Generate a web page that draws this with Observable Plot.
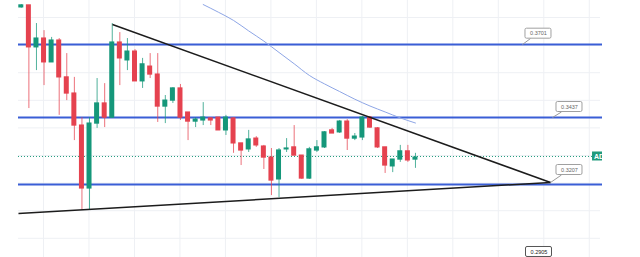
<!DOCTYPE html>
<html><head><meta charset="utf-8">
<script src="https://cdn.jsdelivr.net/npm/d3@7"></script>
<script src="https://cdn.jsdelivr.net/npm/@observablehq/plot@0.6"></script>
<style>html,body{margin:0;padding:0;background:#fff;overflow:hidden}</style>
</head><body><div id="chart"></div>
<script>
// Candles (index = bar number)
const open  = [0.3832,0.3839,0.3691,0.3722,0.3638,0.3715,0.3585,0.3528,0.3415,0.3193,0.3422,0.3493,0.3443,0.3708,0.3645,0.3676,0.3571,0.3623,0.3595,0.3482,0.3503,0.3546,0.3461,0.3429,0.3433,0.3440,0.3443,0.3398,0.3440,0.3352,0.3331,0.3369,0.3341,0.3302,0.3225,0.3331,0.3338,0.3309,0.3228,0.3327,0.3338,0.3398,0.3391,0.3429,0.3369,0.3373,0.3443,0.3405,0.3338,0.3271,0.3295,0.3324,0.3295];
const high  = [0.3842,0.3839,0.3775,0.3750,0.3726,0.3722,0.3669,0.3585,0.3443,0.3443,0.3581,0.3563,0.3775,0.3743,0.3722,0.3683,0.3652,0.3669,0.3669,0.3521,0.3549,0.3560,0.3461,0.3443,0.3496,0.3443,0.3443,0.3451,0.3443,0.3352,0.3398,0.3376,0.3345,0.3334,0.3334,0.3369,0.3415,0.3309,0.3338,0.3362,0.3394,0.3405,0.3433,0.3436,0.3387,0.3447,0.3447,0.3408,0.3338,0.3295,0.3345,0.3345,0.3317];
const low   = [0.3829,0.3475,0.3609,0.3556,0.3638,0.3451,0.3503,0.3362,0.3116,0.3116,0.3405,0.3408,0.3440,0.3556,0.3609,0.3571,0.3546,0.3581,0.3426,0.3422,0.3493,0.3433,0.3362,0.3408,0.3415,0.3415,0.3398,0.3380,0.3317,0.3274,0.3320,0.3338,0.3260,0.3168,0.3161,0.3320,0.3309,0.3225,0.3225,0.3320,0.3334,0.3387,0.3387,0.3327,0.3362,0.3362,0.3405,0.3334,0.3246,0.3249,0.3285,0.3285,0.3264];
const close = [0.3839,0.3691,0.3722,0.3638,0.3715,0.3585,0.3528,0.3415,0.3193,0.3422,0.3493,0.3443,0.3708,0.3652,0.3676,0.3571,0.3631,0.3595,0.3482,0.3503,0.3546,0.3443,0.3429,0.3436,0.3443,0.3433,0.3398,0.3443,0.3352,0.3327,0.3366,0.3345,0.3302,0.3221,0.3327,0.3334,0.3309,0.3228,0.3331,0.3338,0.3391,0.3387,0.3429,0.3369,0.3376,0.3443,0.3408,0.3338,0.3274,0.3295,0.3324,0.3292,0.3302];

// Moving average samples
const maIdx = [24,26,28,30,32,34,36,38,40,42,44,46,48,50,52];
const maVal = [0.3842,0.3815,0.3786,0.3749,0.3713,0.3673,0.3633,0.3592,0.3562,0.3535,0.3508,0.3484,0.3463,0.3442,0.3424];

// Horizontal levels
const levels = [0.3701, 0.34434, 0.3207];
const lastPrice = 0.33059;

// Trendlines [x1,y1,x2,y2]
const trendX1 = [12.03, -0.37];
const trendY1 = [0.37716, 0.31047];
const trendX2 = [69.82, 69.82];
const trendY2 = [0.32141, 0.32141];

// Price callouts
const labelText = ["0.3701","0.3437","0.3207","0.2905"];
const labelIdx  = [68.23, 72.32, 72.32, 68.30];
const labelVal  = [0.37392, 0.34805, 0.32582, 0.29689];
const tailX1 = [67.18, 71.26, 71.26];
const tailY1 = [0.37222, 0.34629, 0.32406];
const tailX2 = [66.12, 70.08, 69.82];
const tailY2 = [0.3701, 0.34434, 0.32141];

// Grid
const gridX = [2.93,8.93,14.93,20.93,26.93,32.93,38.93,44.93,50.93,56.93,62.93,68.93,74.93];
const gridY = [0.37963,0.36989,0.36015,0.35041,0.34068,0.33094,0.32120,0.31146,0.30172];

const candles = open.map((o,i)=>({i, o, h: high[i], l: low[i], c: close[i]}));
const RED = "#e5424f", GREEN = "#15977a";
const col = d => d.c >= d.o ? GREEN : RED;
const PXX = 1/7.58, PXY = 0.00035286;

const labels = labelText.map((t,k)=>({t, x: labelIdx[k], y: labelVal[k], k}));
const tails = tailX1.map((x,k)=>({x1:x, y1:tailY1[k], x2:tailX2[k], y2:tailY2[k]}));
const trends = trendX1.map((x,k)=>({x1:x, y1:trendY1[k], x2:trendX2[k], y2:trendY2[k]}));
const ma = maIdx.map((x,k)=>({x, y: maVal[k]}));

const xMin = -0.37, xMaxGrid = 76.42, xDot = 75.36;

const chart = Plot.plot({
  width: 640, height: 257,
  marginLeft: 18, marginRight: 38, marginTop: 0, marginBottom: 0,
  x: {domain: [-20.8/7.58, -20.8/7.58 + 640/7.58], range: [0, 640], axis: null},
  y: {domain: [0.38563 - 257*PXY, 0.38563], range: [257, 0], axis: null},
  style: {background: "#fff"},
  marks: [
    Plot.ruleX(gridX, {stroke: "#eef0f4", strokeWidth: 1}),
    Plot.ruleY(gridY, {x1: xMin, x2: xMaxGrid, stroke: "#eef0f4", strokeWidth: 1}),
    Plot.ruleY(levels, {stroke: "#3a5ed6", strokeWidth: 2, clip: true}),
    Plot.ruleY([lastPrice], {x1: xMin, x2: xDot, stroke: "#1f9a7c", strokeWidth: 1, strokeDasharray: "1,2"}),
    Plot.line(ma, {x: "x", y: "y", stroke: "#8ea6e6", strokeWidth: 1, curve: "monotone-x"}),
    Plot.ruleX(candles, {x: "i", y1: "l", y2: "h", stroke: col, strokeWidth: 1, strokeOpacity: 0.75}),
    Plot.rect(candles, {x1: d=>d.i-0.33, x2: d=>d.i+0.33, y1: "o", y2: "c", fill: col, insetTop: -0.6, insetBottom: -0.6}),
    Plot.link(trends, {x1:"x1", y1:"y1", x2:"x2", y2:"y2", stroke: "#1c1c1c", strokeWidth: 1.5}),
    Plot.link(tails, {x1:"x1", y1:"y1", x2:"x2", y2:"y2", stroke: "#9a9a9a", strokeWidth: 1}),
    Plot.rect(labels, {x1: d=>d.x-13*PXX, x2: d=>d.x+13*PXX, y1: d=>d.y-5*PXY, y2: d=>d.y+5*PXY,
      fill: "#fff", stroke: d=>d.k===3 ? "#555" : "#a0a0a0", strokeWidth: 1, rx: 1.5}),
    Plot.text(labels, {x: "x", y: "y", text: "t", fill: d=>d.k===3 ? "#222" : "#666",
      fontSize: 5.5, fontFamily: "Liberation Sans, Arial, sans-serif", fontWeight: d=>d.k===3 ? "bold" : "normal"}),
    Plot.rect([lastPrice], {x1: xDot, x2: xDot + 14*PXX, y1: d=>d-4.5*PXY, y2: d=>d+4.5*PXY, fill: "#1f9a7c", clip: true}),
    Plot.text([lastPrice], {x: xDot + 1.5*PXX, y: d=>d, text: ["ADA"], textAnchor: "start", fill: "#fff",
      fontSize: 7, fontWeight: "bold", fontFamily: "Liberation Sans, Arial, sans-serif", clip: true})
  ]
});
document.getElementById("chart").appendChild(chart);
</script>
</body></html>
